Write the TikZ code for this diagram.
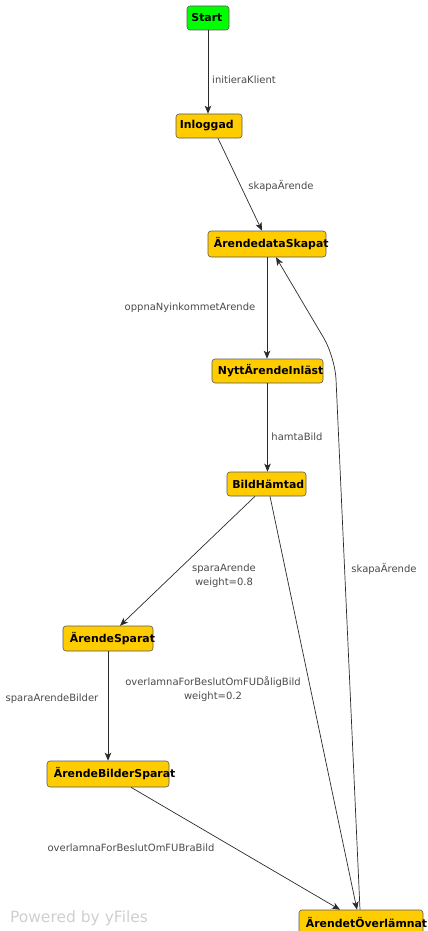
\documentclass[tikz,border=0pt]{standalone}
\usepackage{fontspec}
\setmainfont{DejaVu Sans}
\usetikzlibrary{arrows.meta}

\definecolor{stateyellow}{HTML}{FFCC00}
\definecolor{startgreen}{HTML}{00FF00}
\definecolor{edgegray}{HTML}{2A2A2A}
\definecolor{labelgray}{HTML}{4A4A4A}
\definecolor{creditgray}{HTML}{CFCFCF}

\tikzset{
  state/.style={draw=black!65, fill=stateyellow, rounded corners=3pt,
    line width=0.6pt, minimum height=25pt, inner sep=0pt},
  startstate/.style={state, fill=startgreen},
  statetext/.style={anchor=west, inner sep=0pt, text=black,
    font=\bfseries\fontsize{10.9}{12}\selectfont},
  edge/.style={draw=edgegray, line width=0.7pt,
    -{Stealth[length=8pt,width=6.5pt,inset=2pt]}},
  elabel/.style={inner sep=0pt, text=labelgray, align=center,
    font=\fontsize{10}{14}\selectfont},
}

\begin{document}
\begin{tikzpicture}[x=1pt, y=-1pt]
  \useasboundingbox (0,0) rectangle (428,931);

  % states
  \node[startstate, minimum width=42pt, minimum height=24pt] (start) at (208,18) {};
  \node[statetext] (start-t) at ([xshift=4.5pt]start.west) {Start};

  \node[state, minimum width=66pt, minimum height=24pt] (inl) at (209,126) {};
  \node[statetext] (inl-t) at ([xshift=4pt]inl.west) {Inloggad};

  \node[state, minimum width=118pt, minimum height=26pt] (ads) at (267,244) {};
  \node[statetext] (ads-t) at ([xshift=6pt]ads.west) {ÄrendedataSkapat};

  \node[state, minimum width=111pt, minimum height=24pt] (nyt) at (267.5,371) {};
  \node[statetext] (nyt-t) at ([xshift=6pt]nyt.west) {NyttÄrendeInläst};

  \node[state, minimum width=79pt, minimum height=24pt] (bh) at (266.5,484) {};
  \node[statetext] (bh-t) at ([xshift=5.5pt]bh.west) {BildHämtad};

  \node[state, minimum width=90pt, minimum height=25pt] (as) at (108,638.5) {};
  \node[statetext] (as-t) at ([xshift=7pt]as.west) {ÄrendeSparat};

  \node[state, minimum width=122pt, minimum height=26pt] (abs) at (108,774) {};
  \node[statetext] (abs-t) at ([xshift=7pt]abs.west) {ÄrendeBilderSparat};

  \node[state, minimum width=124pt, minimum height=25pt] (ao) at (361,922.5) {};
  \node[statetext] (ao-t) at ([xshift=7pt]ao.west) {ÄrendetÖverlämnat};

  % transitions
  \draw[edge] (start.south) -- (start.south |- inl.north);
  \draw[edge] ([xshift=9pt]inl.south) -- ([xshift=-5pt]ads.north);
  \draw[edge] (ads.south) -- (ads.south |- nyt.north);
  \draw[edge] (nyt.south) -- (nyt.south |- bh.north);
  \draw[edge] ([xshift=-11.5pt]bh.south) -- ([xshift=12pt]as.north);
  \draw[edge] (as.south) -- (as.south |- abs.north);
  \draw[edge] ([xshift=3.5pt]bh.south) -- ([xshift=-4pt]ao.north);
  \draw[edge] ([xshift=23pt]abs.south) -- ([xshift=-21pt]ao.north);
  \coordinate (bend) at (335,357);
  \draw[edge, rounded corners=22pt] ([xshift=-1pt]ao.north) -- (bend) -- ([xshift=9pt]ads.south);

  % transition labels
  \node[elabel] (l1) at (244,80) {initieraKlient};
  \node[elabel] (l2) at (281,186) {skapaÄrende};
  \node[elabel] (l3) at (190,308) {oppnaNyinkommetArende};
  \node[elabel] (l4) at (297,437) {hamtaBild};
  \node[elabel] (l5) at (224,576) {sparaArende\\weight=0.8};
  \node[elabel] (l6) at (213,689) {overlamnaForBeslutOmFUDåligBild\\weight=0.2};
  \node[elabel] (l7) at (52,699) {sparaArendeBilder};
  \node[elabel] (l8) at (131,848) {overlamnaForBeslutOmFUBraBild};
  \node[elabel] (l9) at (384,569) {skapaÄrende};

  % credit line
  \node[inner sep=0pt, text=creditgray, font=\fontsize{15.5}{18}\selectfont]
    (credit) at (79,918) {Powered by yFiles};
\end{tikzpicture}
\end{document}
